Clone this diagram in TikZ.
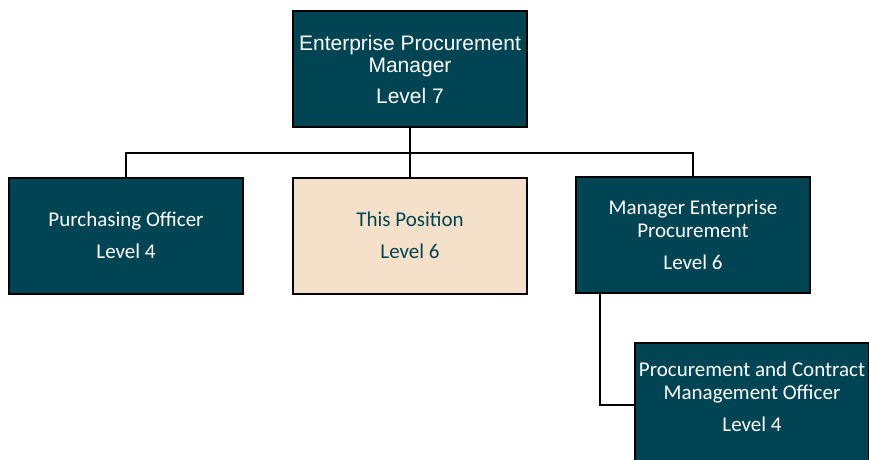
\documentclass[tikz,border=0pt]{standalone}
\usepackage{fontspec}
\setmainfont{Carlito}
\newfontfamily\arialfont{Liberation Sans}
\usetikzlibrary{calc}
\definecolor{darkteal}{RGB}{1,69,84}
\definecolor{peach}{RGB}{245,224,202}
\def\drawlink{\draw[color=black, line width=2pt]}
\def\rolenode{\node[rectangle,draw=black,line width=2pt,fill=darkteal,text=white,minimum width=234pt,minimum height=116pt,align=center,font=\fontsize{21}{23}\selectfont]}

\begin{document}
\begin{tikzpicture}[x=1pt,y=-1pt,inner sep=0pt]
\useasboundingbox (0,0) rectangle (869,459);
\clip (0,0) rectangle (869,459);
\coordinate (o) at (410,69);
\rolenode[font=\arialfont\fontsize{21}{22}\selectfont] (epm) at (o) {Enterprise Procurement\\Manager\\[9pt]Level 7};

% Second row, coordinates are relative to (o)
\rolenode (po) at ($ (o) + (-284,166.5) $) {Purchasing Officer\\[9pt]Level 4};
\rolenode[fill=peach,text=darkteal] (tp) at ($ (o) + (0,166.5) $) {This Position\\[9pt]Level 6};
\rolenode (mep) at ($ (o) + (283,166) $) {Manager Enterprise\\Procurement\\[9pt]Level 6};

% Reports to the manager, runs off the page
\rolenode[minimum height=124pt,text depth=16pt] (pcmo) at ($ (o) + (342,336) $) {Procurement and Contract\\Management Officer\\[9pt]Level 4};

% The bus under the top box
\coordinate (bus) at ($ (epm.south) + (0,24.5) $);
\drawlink (epm.south) to (bus);
\drawlink (po.north) |- (bus);
\drawlink (tp.north) to (bus);
\drawlink (mep.north) |- (bus);

\coordinate (mep_drop) at ($ (mep.south west) + (25,0) $);
\drawlink (mep_drop) |- (pcmo.west);
\end{tikzpicture}
\end{document}
